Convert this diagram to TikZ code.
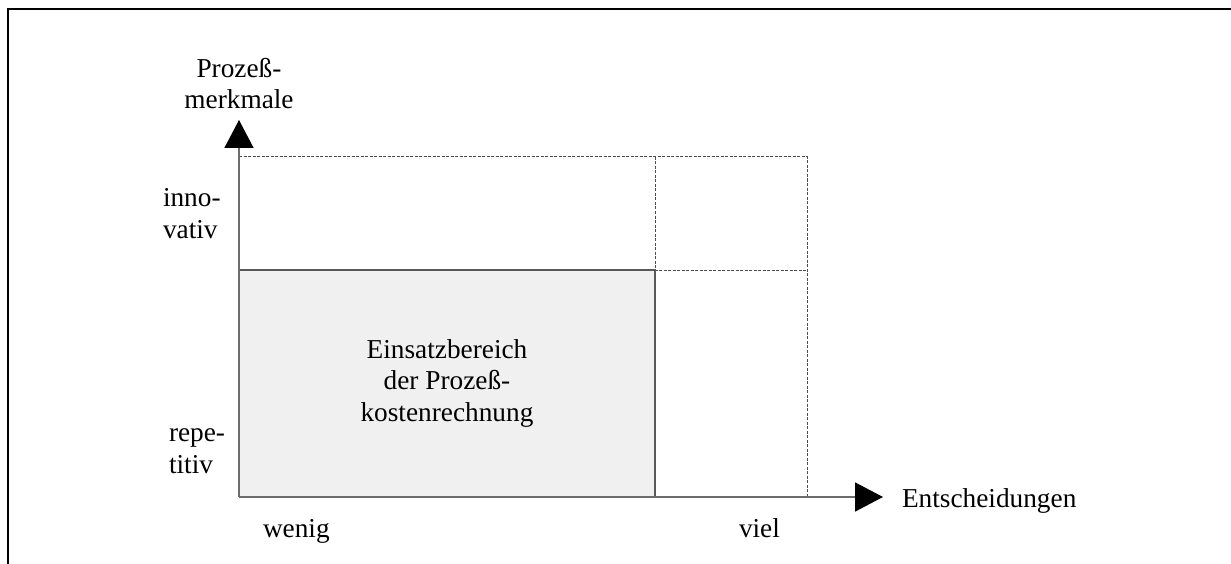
\documentclass[tikz,border=0pt]{standalone}
\usepackage{fontspec}
\setmainfont{Liberation Serif}
\usetikzlibrary{arrows.meta}
\begin{document}
\begin{tikzpicture}[x=1pt,y=-1pt,
  every node/.style={inner sep=0pt,outer sep=0pt,font=\fontsize{27.3}{31.5}\selectfont},
  frameline/.style={line width=2pt,black},
  axisline/.style={line width=1.5pt,gray!85!black,-{Triangle[length=28pt,width=29pt,black]}},
  solidline/.style={line width=1.3pt,black!65},
  dashline/.style={line width=1pt,black!70,dash pattern=on 3pt off 1.5pt},
  areafill/.style={fill=black!6},
  label/.style={align=left,anchor=base west},
  clabel/.style={align=center,anchor=base}]
\useasboundingbox (0,0) rectangle (1231,564);

% outer frame, open at the bottom and right
\draw[frameline] (7.5,564) -- (7.5,9) -- (1231,9);

% reference points of the grid
\coordinate (O) at (239,497);
\coordinate (Ytip) at (239,120);
\coordinate (Xtip) at (883,497);
\coordinate (TL) at (239,157);
\coordinate (TM) at (655,157);
\coordinate (TR) at (807,157);
\coordinate (ML) at (239,270);
\coordinate (MM) at (655,270);
\coordinate (MR) at (807,270);
\coordinate (BM) at (655,497);
\coordinate (BR) at (807,497);

% shaded area of application
\fill[areafill] (ML) rectangle (BM);

% dashed outline of the remaining cells
\draw[dashline] (TL) -- (TR) -- (BR);
\draw[dashline] (TM) -- (MM) -- (MR);

% solid cell borders
\draw[solidline] (ML) -- (MM) -- (BM);

% axes
\draw[axisline] (O) -- (Ytip);
\draw[axisline] (O) -- (Xtip);

% axis labels (base anchor = baseline of the last line)
\node[clabel] (ylab) at (239,109) {Prozeß-\\merkmale};
\node[label] (xlab) at (902,507.5) {Entscheidungen};
\node[label] (inno) at (163,238) {inno-\\vativ};
\node[label] (repe) at (169,473) {repe-\\titiv};
\node[label] (wenig) at (263,537) {wenig};
\node[label] (viel) at (739,537) {viel};

% cell caption
\node[clabel] (area) at (447,421) {Einsatzbereich\\der Prozeß-\\kostenrechnung};
\end{tikzpicture}
\end{document}
